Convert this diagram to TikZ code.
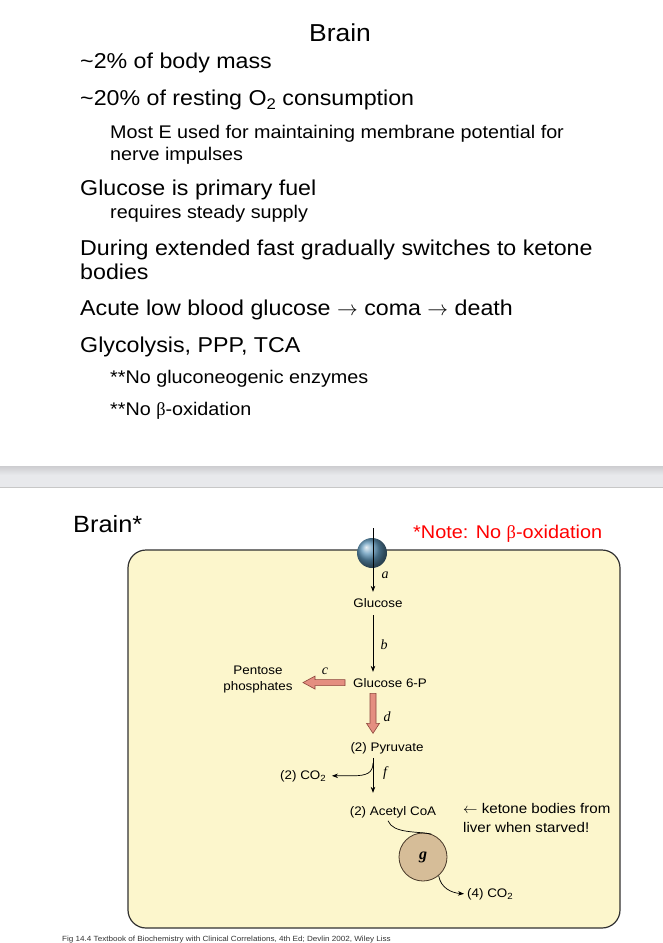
\documentclass[tikz,border=0pt]{standalone}
\usepackage{fontspec}
\setmainfont[FakeStretch=1.08]{Liberation Sans}
\newfontfamily\serifit{Liberation Serif}
\usetikzlibrary{arrows.meta,calc}
\newcommand\subsc[1]{\raisebox{-0.4ex}{\scalebox{0.72}{#1}}}
\definecolor{cream}{RGB}{252,246,204}
\definecolor{boxline}{RGB}{50,50,50}
\definecolor{salmon}{RGB}{228,142,128}
\definecolor{salmonline}{RGB}{140,70,60}
\definecolor{tan}{RGB}{214,189,152}
\definecolor{gline}{RGB}{70,55,40}
\definecolor{bandgray}{RGB}{232,233,236}
\definecolor{shadowgray}{RGB}{205,205,208}
\definecolor{notered}{RGB}{255,0,0}
\begin{document}
\begin{tikzpicture}[x=1pt,y=-1pt,
  txt/.style={inner sep=0pt, anchor=base west},
  titlef/.style={txt, font=\fontsize{24.5}{29}\selectfont},
  mainf/.style={txt, font=\fontsize{21.5}{26}\selectfont},
  subf/.style={txt, font=\fontsize{18.3}{22}\selectfont},
  notef/.style={txt, text=notered, font=\fontsize{18.4}{22}\selectfont},
  lbl/.style={inner sep=0pt, anchor=base, font=\fontsize{12.4}{15}\selectfont},
  ketf/.style={txt, font=\fontsize{14}{17}\selectfont},
  ital/.style={inner sep=0pt, font=\serifit\itshape\fontsize{14}{16}\selectfont},
  arr/.style={line width=0.7pt, -{Stealth[length=6pt,width=4.5pt]}},
  blockarrow/.style={fill=salmon, draw=salmonline, line width=0.6pt, line join=miter},
  gcirc/.style={circle, minimum size=48pt, inner sep=0pt, fill=tan, draw=gline, line width=0.8pt, font=\serifit\itshape\bfseries\fontsize{16}{18}\selectfont},
  capf/.style={txt, text=black!80, font=\fontsize{7.5}{9}\selectfont}
]
\useasboundingbox (0,0) rectangle (663,943);
\clip (0,0) rectangle (663,943);
\fill[white] (0,0) rectangle (663,943);
% slide separator band
\fill[bandgray] (0,466) rectangle (663,487);
\shade[top color=shadowgray, bottom color=bandgray] (0,466) rectangle (663,475);
\draw[black!22, line width=0.8pt] (0,487.4) -- (663,487.4);

% ---------- top slide ----------
\node[titlef, anchor=base] (title) at (340,41) {Brain};
\node[mainf] (l1) at (80,68) {\textasciitilde2\% of body mass};
\node[mainf] (l2) at (80,105) {\textasciitilde20\% of resting O\subsc{2} consumption};
\node[subf] (l3) at (110,138) {Most E used for maintaining membrane potential for};
\node[subf] (l4) at (110,160) {nerve impulses};
\node[mainf] (l5) at (80,195) {Glucose is primary fuel};
\node[subf] (l6) at (110,218) {requires steady supply};
\node[mainf] (l7) at (80,255) {During extended fast gradually switches to ketone};
\node[mainf] (l8) at (80,279) {bodies};
\node[mainf] (l9) at (80,315) {Acute low blood glucose $\rightarrow$ coma $\rightarrow$ death};
\node[mainf] (l10) at (80,352) {Glycolysis, PPP, TCA};
\node[subf] (l11) at (110,383) {**No gluconeogenic enzymes};
\node[subf] (l12) at (110,415) {**No {\serifit β}-oxidation};

% ---------- bottom slide ----------
\node[titlef, font=\fontsize{23.5}{28}\selectfont] (b) at (73,532) {Brain*};
\node[notef] (note) at (413,538) {*Note: No {\serifit β}-oxidation};

\draw[boxline, line width=1.2pt, fill=cream, rounded corners=18pt] (128,550) rectangle (620,928);

% membrane transporter
\coordinate (memtop) at (373,528);
\coordinate (fx) at (373,600);
\shade[ball color={rgb,255:red,95;green,150;blue,185}] (372,553) circle (15);

\node[lbl] (glc) at (378,607) {Glucose};
\node[lbl, anchor=base west] (g6p) at (353,687) {Glucose 6-P};
\node[lbl] (pent1) at (258,674) {Pentose};
\node[lbl] (pent) at (258,690) {phosphates};
\node[lbl] (pyr) at (387,751) {(2) Pyruvate};
\node[lbl] (co2) at (303,779) {(2) CO\subsc{2}};
\node[lbl] (acoa) at (393,815) {(2) Acetyl CoA};
\node[gcirc] (g) at (423,857) {g};
\node[lbl, anchor=base west] (co24) at (467,897) {(4) CO\subsc{2}};

\node[ketf] (ket1) at (463,813) {$\leftarrow$ ketone bodies from};
\node[ketf] (ket2) at (463,832) {liver when starved!};

% labels
\node[ital] (la) at (385,575) {a};
\node[ital] (lb) at (384,645) {b};
\node[ital] (lc) at (325,671) {c};
\node[ital] (ld) at (387,717) {d};
\node[ital] (lf) at (385,773) {f};

% a
\draw[arr] (memtop) -- ($(glc.north -| fx)+(0,-6)$);
% b
\draw[arr] ($(glc.south -| fx)+(0,8)$) -- ($(g6p.north -| fx)+(0,-6)$);
% c : block arrow to pentose phosphates
\draw[blockarrow] ($(g6p.west)+(-8,0)$) -- ++(0,-3) -- ++(-30,0) -- ++(0,-3.5) -- ++(-12,6.5) -- ++(12,6.5) -- ++(0,-3.5) -- ++(30,0) -- cycle;
% d : block arrow down to pyruvate
\draw[blockarrow] ($(g6p.south -| fx)+(0,6)$) -- ++(3,0) -- ++(0,30) -- ++(3.5,0) -- ++(-6.5,10) -- ++(-6.5,-10) -- ++(3.5,0) -- ++(0,-30) -- cycle;
% f
\draw[arr] ($(pyr.south -| fx)+(0,4)$) -- ($(acoa.north -| fx)+(0,-13)$);
\coordinate (fbr) at ($(pyr.south -| fx)+(0,9)$);
\draw[arr] (fbr) .. controls ($(fbr)+(0,10)$) and ($(fbr)+(-6,13)$) .. ($(fbr)+(-20,13)$) -- ($(co2.east)+(6,0)$);
% acetyl CoA to g
\coordinate (acs) at ($(acoa.south)+(-5,3)$);
\draw[line width=0.7pt] (acs) .. controls ($(acs)+(5,13)$) and ($(g.70)+(-14,-3)$) .. (g.70);
% g to CO2
\draw[arr] (g.-50) .. controls ($(g.-50)+(2,12)$) and ($(co24.west)+(-16,-1)$) .. ($(co24.west)+(-3,0)$);

% caption
\node[capf] (cap) at (62,941) {Fig 14.4 Textbook of Biochemistry with Clinical Correlations, 4th Ed; Devlin 2002, Wiley Liss};
\end{tikzpicture}
\end{document}
